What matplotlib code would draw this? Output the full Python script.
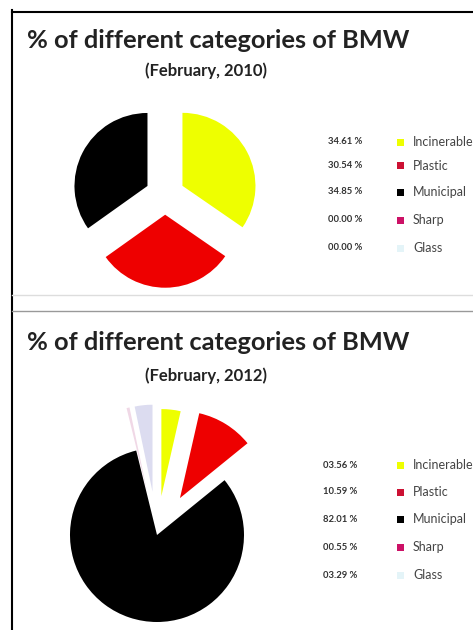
import matplotlib
matplotlib.use("Agg")
import matplotlib.pyplot as plt
from matplotlib.lines import Line2D
from matplotlib.patches import Rectangle

plt.rcParams['font.family'] = ['Lato', 'DejaVu Sans']

# data
categories = ["Incinerable", "Plastic", "Municipal", "Sharp", "Glass"]
colors = ["#eeff00", "#ee0000", "#000000", "#f0d8e6", "#dcdcf0"]
legend_colors = ["#eeff00", "#cc1133", "#000000", "#cc1166", "#e4f4f8"]
pct_2010 = [34.61, 30.54, 34.85, 0.00, 0.00]
pct_2012 = [3.56, 10.59, 82.01, 0.55, 3.29]
title = "% of different categories of BMW"
sub_2010 = "(February, 2010)"
sub_2012 = "(February, 2012)"

W, H = 473, 630
fig = plt.figure(figsize=(W / 100, H / 100), dpi=100)


def px_axes(cx, cy, hw, hh, r):
    # axes centred on pixel (cx, cy) (image coords), 1 data unit = r px
    ax = fig.add_axes([(cx - hw) / W, (H - cy - hh) / H, 2 * hw / W, 2 * hh / H])
    return ax, hw / r, hh / r


def draw_pie(cx, cy, r, vals, explode, hw, hh):
    ax, xl, yl = px_axes(cx, cy, hw, hh, r)
    ax.pie(vals, colors=colors, explode=explode, startangle=90,
           counterclock=False, radius=1, wedgeprops=dict(linewidth=0))
    ax.set_aspect('auto')
    ax.set_xlim(-xl, xl)
    ax.set_ylim(-yl, yl)
    ax.axis('off')


def draw_legend(ys, vals, pct_x):
    for y, v, lab, c in zip(ys, vals, categories, legend_colors):
        fig.text(pct_x / W, 1 - y / H, "%05.2f %%" % v, fontsize=6.8,
                 fontweight='bold', color="#333333", ha='left', va='center')
        fig.add_artist(Rectangle(((400 - 3.5) / W, 1 - (y + 3.5) / H), 7 / W, 7 / H,
                                 transform=fig.transFigure, color=c, lw=0))
        fig.text(413 / W, 1 - y / H, lab, fontsize=9, color="#444444",
                 ha='left', va='center')


# frame lines
fig.add_artist(Line2D([12 / W, 12 / W], [0, 1 - 10 / H], color='black', lw=1.5))
fig.add_artist(Line2D([12 / W, 1], [1 - 12 / H, 1 - 12 / H], color='black', lw=1.5))
fig.add_artist(Line2D([12 / W, 1], [1 - 295 / H, 1 - 295 / H], color='#dddddd', lw=1))
fig.add_artist(Line2D([12 / W, 1], [1 - 311 / H, 1 - 311 / H], color='#999999', lw=1))

# 2010
fig.text(27 / W, 1 - 40 / H, title, fontsize=18.3, fontweight='bold',
         color="#222222", ha='left', va='center')
fig.text(206 / W, 1 - 71 / H, sub_2010, fontsize=12, fontweight='bold',
         color="#222222", ha='center', va='center')
draw_pie(165, 195, 73, pct_2010, [0.27] * 5, 120, 95)
draw_legend([142, 166, 192, 220, 248], pct_2010, 328)

# 2012
fig.text(27 / W, 1 - 342 / H, title, fontsize=18.3, fontweight='bold',
         color="#222222", ha='left', va='center')
fig.text(206 / W, 1 - 376 / H, sub_2012, fontsize=12, fontweight='bold',
         color="#222222", ha='center', va='center')
draw_pie(157, 535, 87, pct_2012, [0.45, 0.5, 0.0, 0.5, 0.5], 130, 95)
draw_legend([465, 492, 519, 547, 575], pct_2012, 323)

fig.savefig("out.png", dpi=100, facecolor='white')
